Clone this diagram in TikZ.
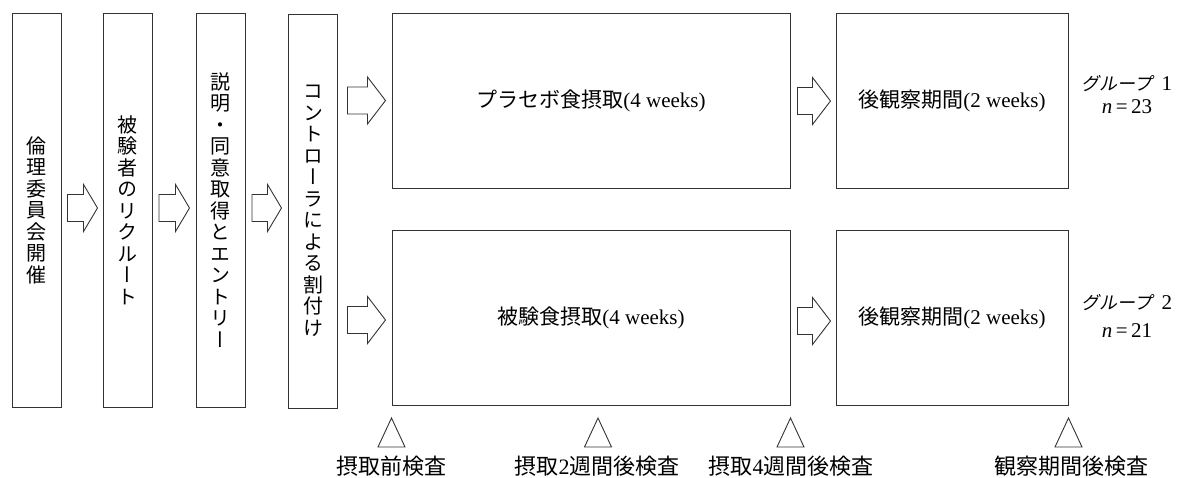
\documentclass[tikz,border=0pt]{standalone}
\usepackage{fontspec}
\setmainfont{Liberation Serif}
\newfontfamily\jp{Noto Sans CJK JP}
\newfontfamily\jpv[RawFeature=+vert]{Noto Sans CJK JP}
\newfontfamily\jpsl[FakeSlant=0.2]{Noto Sans CJK JP}
\usetikzlibrary{calc}
\newcommand{\blockarr}[3]{%
  \draw[barrow] ($(#1)+(0,-13.5)$) -- ($(#2)+(-#3,-13.5)$) -- ($(#2)+(-#3,-23.5)$)
    -- (#2) -- ($(#2)+(-#3,23.5)$) -- ($(#2)+(-#3,13.5)$) -- ($(#1)+(0,13.5)$) -- cycle;}
\tikzset{
  box/.style={draw=black!80, line width=1pt, inner sep=0pt},
  vbox/.style={box, minimum width=49pt, minimum height=394pt, align=center,
    font=\jpv\fontsize{20}{21.5}\selectfont},
  hbox/.style={box, minimum height=175pt, font=\fontsize{21}{24}\selectfont},
  barrow/.style={draw=black!80, line width=0.9pt, line join=miter},
  tri/.style={draw=black!80, line width=0.9pt, line join=miter},
  lbl/.style={inner sep=0pt, font=\fontsize{22}{24}\selectfont},
  grp/.style={inner sep=0pt, font=\fontsize{21}{24}\selectfont}
}
\begin{document}
\begin{tikzpicture}[x=1pt,y=-1pt]
\useasboundingbox (0,0) rectangle (1184,477);
% vertical step boxes
\node[vbox] (b1) at (36.5,210) {倫\\理\\委\\員\\会\\開\\催};
\node[vbox] (b2) at (127.5,210) {被\\験\\者\\の\\リ\\ク\\ル\\ー\\ト};
\node[vbox] (b3) at (220.5,210) {説\\明\\・\\同\\意\\取\\得\\と\\エ\\ン\\ト\\リ\\ー};
\node[vbox] (b4) at (313,211) {コ\\ン\\ト\\ロ\\ー\\ラ\\に\\よ\\る\\割\\付\\け};
% intake boxes
\node[hbox, minimum width=398pt] (p1) at (591,100.5) {{\jp プラセボ食摂取}(4 weeks)};
\node[hbox, minimum width=398pt] (p2) at (591,318) {{\jp 被験食摂取}(4 weeks)};
\node[hbox, minimum width=232pt] (o1) at (952,100.5) {{\jp 後観察期間}(2 weeks)};
\node[hbox, minimum width=232pt] (o2) at (952,318) {{\jp 後観察期間}(2 weeks)};
% group labels
\node[grp] (g1) at (1127,84) {{\jpsl\fontsize{18}{20}\selectfont グループ}\hspace{9pt}1};
\node[grp] (n1) at (1127,107) {\textit{n}\,=\,23};
\node[grp] (g2) at (1127,303) {{\jpsl\fontsize{18}{20}\selectfont グループ}\hspace{9pt}2};
\node[grp] (n2) at (1127,331) {\textit{n}\,=\,21};
% block arrows
\coordinate (a1s) at ($(b1.east)+(6,-2)$);  \coordinate (a1e) at ($(b2.west)+(-5,-2)$);
\coordinate (a2s) at ($(b2.east)+(6.5,-2)$); \coordinate (a2e) at ($(b3.west)+(-6,-2)$);
\coordinate (a3s) at ($(b3.east)+(6.5,-2)$); \coordinate (a3e) at ($(b4.west)+(-6.5,-3)$);
\coordinate (a4s) at ($(b4.east |- p1.west)+(9.5,0)$); \coordinate (a4e) at ($(p1.west)+(-6,0)$);
\coordinate (a5s) at ($(b4.east |- p2.west)+(9.5,2)$); \coordinate (a5e) at ($(p2.west)+(-6,2)$);
\coordinate (a6s) at ($(p1.east)+(7,0.5)$); \coordinate (a6e) at ($(o1.west)+(-5,0.5)$);
\coordinate (a7s) at ($(p2.east)+(7,3)$); \coordinate (a7e) at ($(o2.west)+(-5,3)$);
\blockarr{a1s}{a1e}{14}
\blockarr{a2s}{a2e}{14}
\blockarr{a3s}{a3e}{14}
\blockarr{a4s}{a4e}{18}
\blockarr{a5s}{a5e}{18}
\blockarr{a6s}{a6e}{18}
\blockarr{a7s}{a7e}{18}
% examination markers
\draw[tri] ($(p2.south west)+(0,12)$) -- ++(-13.5,29) -- ++(27,0) -- cycle;
\draw[tri] ($(p2.south)+(7,12)$) -- ++(-13.5,29) -- ++(27,0) -- cycle;
\draw[tri] ($(p2.south east)+(0,12)$) -- ++(-13.5,29) -- ++(27,0) -- cycle;
\draw[tri] ($(o2.south east)+(0,12)$) -- ++(-13.5,29) -- ++(27,0) -- cycle;
\node[lbl] (t1) at (391,466) {\jp 摂取前検査};
\node[lbl] (t2) at (597,466) {{\jp 摂取}2{\jp 週間後検査}};
\node[lbl] (t3) at (791,466) {{\jp 摂取}4{\jp 週間後検査}};
\node[lbl] (t4) at (1071,466) {\jp 観察期間後検査};
\end{tikzpicture}
\end{document}
